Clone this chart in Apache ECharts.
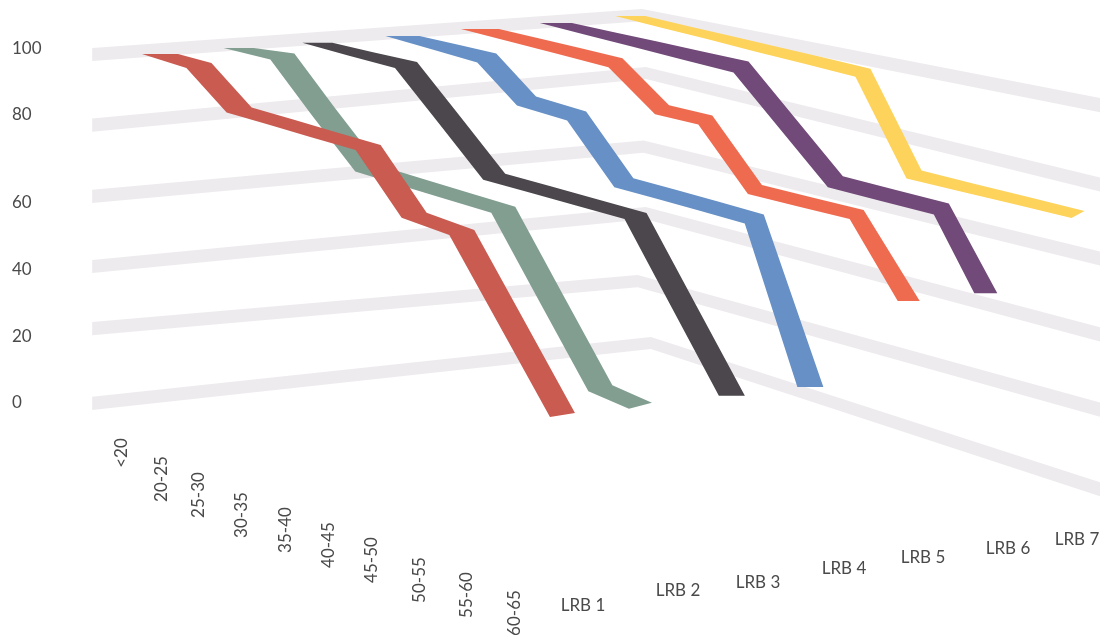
<!DOCTYPE html>
<html>
<head>
<meta charset="utf-8">
<style>html,body{margin:0;background:#fff}#chart{width:1100px;height:641px}</style>
<script src="https://cdn.jsdelivr.net/npm/echarts@6/dist/echarts.min.js"></script>
</head>
<body>
<div id="chart"></div>
<script>
// Chart data
const ageBands = ['<20', '20-25', '25-30', '30-35', '35-40', '40-45', '45-50', '50-55', '55-60', '60-65'];
const lrbNames = ['LRB 1', 'LRB 2', 'LRB 3', 'LRB 4', 'LRB 5', 'LRB 6', 'LRB 7'];
const valueTicks = [0, 20, 40, 60, 80, 100];
const lrb1 = [97.8, 97.5, 88.1, 88, 87.8, 87.7, 73.5, 72.8, 54.2, 35.5];
const lrb2 = [97.7, 98.4, 85.9, 73.5, 73.3, 73.1, 73, 53.9, 35, 34];
const lrb3 = [97.5, 97.4, 97.4, 85.1, 72.7, 72.7, 72.7, 72.7, 53.3, 34.1];
const lrb4 = [98.4, 98.1, 97.8, 88.3, 87.6, 72.6, 72.5, 72.4, 72.2, 33.1];
const lrb5 = [99, 98.7, 98.4, 98.1, 87.9, 87.9, 72.3, 72.4, 72.6, 53.8];
const lrb6 = [99.3, 99, 98.8, 98.5, 98.2, 85.3, 72.4, 72.3, 72.2, 53.1];
const lrb7 = [100, 99.5, 99.1, 98.6, 98.2, 97.7, 72.5, 72.4, 72.4, 72.3];
const lrbValues = [lrb1, lrb2, lrb3, lrb4, lrb5, lrb6, lrb7];

// Ribbon colours, front lane first
const lrbColors = ['#C95B50', '#819E91', '#4B474C', '#6690C6', '#EF6B50', '#714A79', '#FDD35B'];
const gridColor = '#EEEBEE';
const textColor = '#4A4A4A';
const labelFont = '17px Lato';

// Perspective of the floor plane: age runs towards the viewer, lanes run to the right
const floorX = { age: 35.756, lane: 85.113, base: 160 };
const floorY = { age: 9.2996, lane: -4.886, base: 396 };
const perspective = { age: -0.015933, lane: 0.010677 };
const wallHeight = 349.7;
const ageAxisMax = 10;
const valueAxisMax = 100;

function project(sys, planePoint, lane) {
  const age = (planePoint[0] - sys.x) / sys.width * ageAxisMax;
  const value = (sys.y + sys.height - planePoint[1]) / sys.height * valueAxisMax;
  const d = 1 + perspective.age * age + perspective.lane * lane;
  return [
    (floorX.age * age + floorX.lane * lane + floorX.base) / d,
    (floorY.age * age + floorY.lane * lane + floorY.base) / d - wallHeight * value / 100 / d,
    d
  ];
}

// Ribbon shape: hand-drawn lean per age, cross-section along the run and at both cut ends
const ageLean = [
  [0, 0, 0, 0, 0, 0, 0, 0, 0, 0],
  [-0.1, 0, 0, 0.03, 0.05, 0.03, 0.02, 0, -0.02, -0.25],
  [-0.15, -0.07, 0, 0, 0, -0.02, -0.03, -0.05, -0.12, -0.2],
  [0, 0, 0, -0.1, 0, 0, -0.13, -0.27, -0.4, -0.35],
  [0, 0.03, 0.07, 0.1, 0.1, 0, 0, -0.02, -0.05, -0.1],
  [0, 0.03, 0.05, 0.08, 0.1, 0.05, 0, 0, 0, -0.2],
  [0, 0, 0, 0, 0, 0, 0, 0, 0, 0]
];
const laneWidth = [[25, -5], [24, -6], [22, -6], [19, -9], [14, -9], [15, -11], [15, -8]];
const startCut = [[36, 0], [30, 0], [30, 0], [34, 0], [38, 0], [32, 0], [30, 0]];
const endCut = [[25, -4], [23, -6], [26, 0], [26, 0], [22, 0], [23, 0], [13, -7]];
const firstBend = [1, 1, 2, 2, 3, 4, 5];
const lastBend = [7, 8, 7, 8, 8, 8, 6];

function crossSection(k, i) {
  const mix = (p, q, t) => [p[0] + (q[0] - p[0]) * t, p[1] + (q[1] - p[1]) * t];
  if (i < firstBend[k]) return mix(startCut[k], laneWidth[k], i / firstBend[k]);
  if (i > lastBend[k]) return mix(laneWidth[k], endCut[k], (i - lastBend[k]) / (ageBands.length - 1 - lastBend[k]));
  return laneWidth[k];
}

// Flat grid bands: they run along the back wall to the corner, then down the far side
const gridFarLane = 6.2;
const gridCornerLane = [6.28, 6.1, 6.21, 6.18, 6.21, 6.16];
const gridLeftLane = -0.806;
const gridRightAge = 9.105;
const gridThickness = 13;
const gridDrift = [
  [0, -0.2, -0.1],
  [1.2, -0.9, 0.9],
  [-1.2, -0.4, 0.7],
  [-1.3, -0.1, 0.7],
  [-1.1, 2.3, 0.2],
  [-1.1, 0, 1.1]
];

function renderGridBand(params, api) {
  const level = params.dataIndex;
  const value = valueTicks[level];
  const anchors = [[0, gridLeftLane], [0, gridCornerLane[level]], [gridRightAge, gridFarLane]];
  const centre = anchors.map((a, j) =>
    project(params.coordSys, api.coord([a[0], value + gridDrift[level][j]]), a[1]));
  const half = p => gridThickness / p[2] / 2;
  const upper = centre.map(p => [p[0], p[1] - half(p)]);
  const lower = centre.map(p => [p[0], p[1] + half(p)]).reverse();
  return {
    type: 'polygon',
    shape: { points: upper.concat(lower) },
    style: { fill: gridColor },
    silent: true
  };
}

function renderRibbon(k) {
  return function (params, api) {
    if (params.dataIndex !== 0) return null;
    const centre = lrbValues[k].map((v, i) =>
      project(params.coordSys, api.coord([i + ageLean[k][i], v]), k));
    const nearEdge = [];
    const farEdge = [];
    centre.forEach((p, i) => {
      const w = crossSection(k, i);
      nearEdge.push([p[0] - w[0] / 2, p[1] - w[1] / 2]);
      farEdge.push([p[0] + w[0] / 2, p[1] + w[1] / 2]);
    });
    return {
      type: 'polygon',
      shape: { points: nearEdge.concat(farEdge.reverse()) },
      style: { fill: lrbColors[k] },
      silent: true
    };
  };
}

// Tick label placement, in the same order as the label lists
const valueLabelX = 12;
const valueLabelY = [403, 337, 270, 203, 115, 49];
const ageLabelX = [122, 162, 199, 242, 286, 329, 372, 420, 467, 515];
const ageLabelY = [453, 479, 495, 515, 530, 545, 560, 580, 595, 613];
const lrbLabelX = [583, 678, 758, 844, 923, 1008, 1077];
const lrbLabelY = [606, 591, 583, 569, 558, 549, 540];

const labels = [];
valueTicks.forEach((t, i) => labels.push({
  type: 'text', x: valueLabelX, y: valueLabelY[i], silent: true,
  style: { text: String(t), font: labelFont, fill: textColor, textAlign: 'left', textVerticalAlign: 'middle' }
}));
ageBands.forEach((t, i) => labels.push({
  type: 'text', x: ageLabelX[i], y: ageLabelY[i], rotation: Math.PI / 2, silent: true,
  style: { text: t, font: labelFont, fill: textColor, textAlign: 'center', textVerticalAlign: 'middle' }
}));
lrbNames.forEach((t, i) => labels.push({
  type: 'text', x: lrbLabelX[i], y: lrbLabelY[i], silent: true,
  style: { text: t, font: labelFont, fill: textColor, textAlign: 'center', textVerticalAlign: 'middle' }
}));

const series = [{
  type: 'custom',
  name: 'Grid',
  coordinateSystem: 'cartesian2d',
  clip: false,
  z: 1,
  renderItem: renderGridBand,
  data: valueTicks.map((v, i) => [i, v])
}];
lrbNames.forEach((name, k) => series.push({
  type: 'custom',
  name,
  coordinateSystem: 'cartesian2d',
  clip: false,
  z: 10 - k,
  renderItem: renderRibbon(k),
  data: lrbValues[k].map((v, i) => [i, v])
}));

const chart = echarts.init(document.getElementById('chart'), null, { renderer: 'canvas' });
chart.setOption({
  animation: false,
  backgroundColor: '#fff',
  grid: { left: 0, right: 0, top: 0, bottom: 0 },
  xAxis: { type: 'value', min: 0, max: ageAxisMax, show: false },
  yAxis: { type: 'value', min: 0, max: valueAxisMax, show: false },
  graphic: { elements: labels },
  series
});
</script>
</body>
</html>
